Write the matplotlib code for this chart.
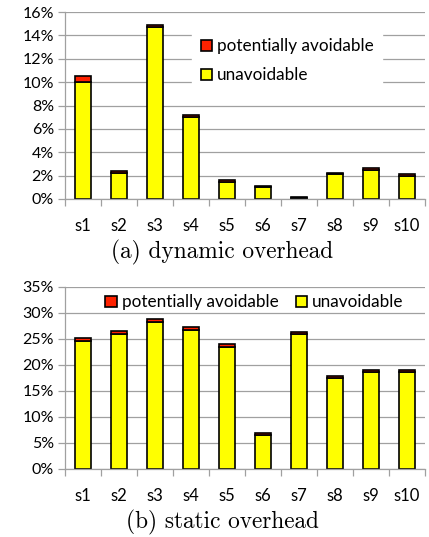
import numpy as np
import matplotlib
matplotlib.use("Agg")
import matplotlib.pyplot as plt
from matplotlib.ticker import PercentFormatter, FixedLocator

plt.rcParams['font.family'] = ['Lato', 'DejaVu Sans']

# %% data (percent)
suites = ['s1', 's2', 's3', 's4', 's5', 's6', 's7', 's8', 's9', 's10']

dyn_unavoidable = [10.0, 2.25, 14.7, 7.0, 1.45, 1.0, 0.1, 2.1, 2.5, 2.0]
dyn_avoidable = [0.55, 0.15, 0.15, 0.15, 0.15, 0.15, 0.1, 0.15, 0.15, 0.15]

sta_unavoidable = [24.6, 26.0, 28.2, 26.7, 23.4, 6.6, 26.0, 17.5, 18.7, 18.7]
sta_avoidable = [0.55, 0.6, 0.6, 0.6, 0.55, 0.3, 0.35, 0.35, 0.35, 0.35]

YELLOW = '#ffff00'
RED = '#ff2200'
GRID = '#a0a0a0'

# %% figure
W, H = 429, 537
fig = plt.figure(figsize=(W / 100, H / 100), dpi=100)


def px_axes(left, top, right, bottom):
    return fig.add_axes([left / W, 1 - bottom / H, (right - left) / W, (bottom - top) / H])


def style_axes(ax, ymax, ystep):
    x = np.arange(len(suites))
    ax.set_xlim(-0.5, len(suites) - 0.5)
    ax.set_ylim(0, ymax)
    ax.set_yticks(np.arange(0, ymax + 0.01, ystep))
    ax.yaxis.set_major_formatter(PercentFormatter(decimals=0))
    ax.set_xticks(x)
    ax.set_xticklabels(suites)
    ax.xaxis.set_minor_locator(FixedLocator(np.arange(-0.5, len(suites), 1.0)))
    ax.tick_params(axis='x', which='major', length=0, pad=14, labelsize=12)
    ax.tick_params(axis='x', which='minor', length=5, color=GRID, width=0.9)
    ax.tick_params(axis='y', length=5, color=GRID, width=0.9, labelsize=11.5, pad=3)
    ax.yaxis.grid(True, color=GRID, linewidth=0.9)
    ax.set_axisbelow(True)
    for side in ['top', 'right']:
        ax.spines[side].set_visible(False)
    for side in ['left', 'bottom']:
        ax.spines[side].set_color(GRID)
        ax.spines[side].set_linewidth(0.9)


def draw_stack(ax, unavoidable, avoidable):
    x = np.arange(len(suites))
    b1 = ax.bar(x, unavoidable, width=0.47, color=YELLOW, edgecolor='black',
                linewidth=1.2, label='unavoidable')
    b2 = ax.bar(x, avoidable, width=0.47, bottom=unavoidable, color=RED,
                edgecolor='black', linewidth=1.2, label='potentially avoidable')
    return b1, b2


# (a) dynamic overhead
ax1 = px_axes(65, 12, 425, 199)
style_axes(ax1, 16, 2)
b1, b2 = draw_stack(ax1, dyn_unavoidable, dyn_avoidable)
leg1 = ax1.legend([b2, b1], ['potentially avoidable', 'unavoidable'],
                  loc='upper left', bbox_to_anchor=(0.33, 0.95), fontsize=12.3,
                  frameon=True, framealpha=1, edgecolor='white', fancybox=False,
                  handlelength=0.65, handleheight=0.65, handletextpad=0.3,
                  labelspacing=0.75, borderpad=0.5)

# (b) static overhead
ax2 = px_axes(65, 287, 425, 469)
style_axes(ax2, 35, 5)
c1, c2 = draw_stack(ax2, sta_unavoidable, sta_avoidable)
leg2 = ax2.legend([c2, c1], ['potentially avoidable', 'unavoidable'],
                  loc='center', bbox_to_anchor=(0.526, 0.915), ncol=2, fontsize=12.3,
                  frameon=False, handlelength=0.65, handleheight=0.65,
                  handletextpad=0.3, columnspacing=1.0, borderpad=0.2)

# captions
fig.text(222 / W, 1 - 252 / H, '(a) dynamic overhead', family='cmr10',
         fontsize=16.8, ha='center', va='center')
fig.text(222 / W, 1 - 522 / H, '(b) static overhead', family='cmr10',
         fontsize=16.8, ha='center', va='center')

fig.savefig('out.png', dpi=100)
